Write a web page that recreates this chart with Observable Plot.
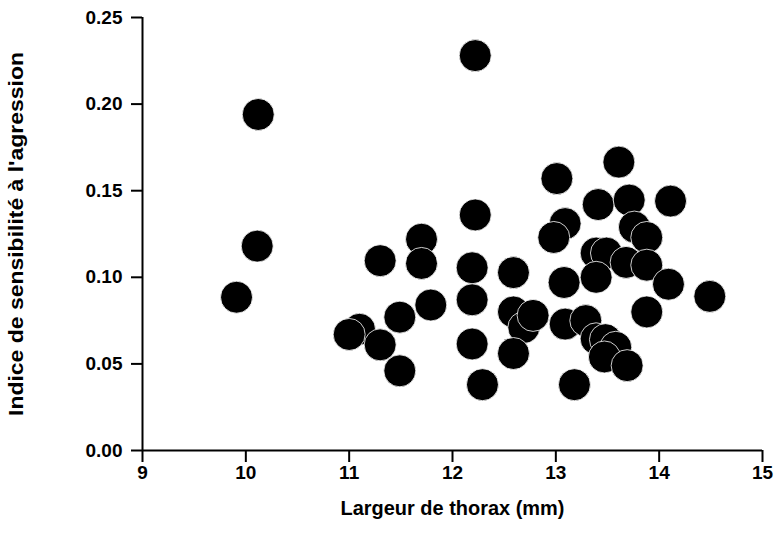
<!DOCTYPE html>
<html>
<head>
<meta charset="utf-8">
<script src="https://cdn.jsdelivr.net/npm/d3@7"></script>
<script src="https://cdn.jsdelivr.net/npm/@observablehq/plot@0.6"></script>
<style>
  html, body { margin: 0; padding: 0; background: #fff; }
</style>
</head>
<body>
<div id="chart"></div>
<script>
// Thorax width (mm)
const thorax = [
  12.22, 10.12, 10.11, 9.91,
  13.61, 13.01, 13.41, 13.71, 14.11, 12.22, 13.09, 12.98, 13.76, 13.88,
  11.70, 11.70, 11.30, 12.19, 12.59,
  13.39, 13.49, 13.39, 13.68, 13.88, 13.08, 14.09, 14.49,
  12.19, 11.79, 11.49, 12.59, 12.69, 12.78, 13.88,
  13.09, 13.29, 13.39, 13.48, 13.58, 13.47, 13.69,
  11.10, 11.00, 11.30, 12.19, 12.59, 11.49, 12.29, 13.18
];
// Aggression sensitivity index
const sensitivity = [
  0.228, 0.194, 0.118, 0.0885,
  0.1665, 0.157, 0.142, 0.1446, 0.144, 0.136, 0.131, 0.123, 0.129, 0.123,
  0.122, 0.108, 0.1096, 0.1055, 0.1027,
  0.114, 0.114, 0.100, 0.1086, 0.107, 0.097, 0.096, 0.089,
  0.087, 0.084, 0.077, 0.080, 0.071, 0.078, 0.080,
  0.073, 0.075, 0.0645, 0.064, 0.0596, 0.054, 0.049,
  0.070, 0.067, 0.061, 0.0615, 0.056, 0.046, 0.038, 0.038
];
const xTicks = [9, 10, 11, 12, 13, 14, 15];
const yTicks = [0, 0.05, 0.10, 0.15, 0.20, 0.25];
const xTitle = "Largeur de thorax (mm)";
const yTitle = "Indice de sensibilité à l'agression";

const data = thorax.map((t, i) => ({x: t, y: sensitivity[i]}));

const chart = Plot.plot({
  width: 779,
  height: 549,
  marginLeft: 142,
  marginRight: 17,
  marginTop: 17,
  marginBottom: 99,
  style: {
    fontFamily: "'Liberation Sans', Arial, Helvetica, sans-serif",
    fontWeight: "bold",
    background: "#fff",
    color: "#000"
  },
  x: {domain: [9, 15]},
  y: {domain: [0, 0.25]},
  marks: [
    Plot.axisX({
      ticks: xTicks,
      tickSize: 12,
      tickPadding: 3,
      fontSize: 19,
      strokeWidth: 2,
      tickFormat: d3.format("d"),
      label: xTitle,
      labelAnchor: "center",
      labelOffset: 64,
      labelArrow: false
    }),
    Plot.axisY({
      ticks: yTicks,
      tickSize: 11,
      tickPadding: 9,
      fontSize: 19,
      strokeWidth: 2,
      tickFormat: d3.format(".2f"),
      label: yTitle,
      labelAnchor: "center",
      labelOffset: 133,
      labelArrow: false
    }),
    Plot.ruleY([0], {x1: 9, x2: 15, stroke: "#000", strokeWidth: 2}),
    Plot.ruleX([9], {y1: 0, y2: 0.25, stroke: "#000", strokeWidth: 2}),
    Plot.dot(data, {x: "x", y: "y", r: 16, fill: "#000", stroke: "#fff", strokeWidth: 0.8})
  ]
});

// axis titles: larger, stretched to the reference's lengths
chart.querySelectorAll("[aria-label='x-axis label'] text").forEach(t => {
  t.setAttribute("font-size", 19.5);
  t.setAttribute("textLength", 224);
  t.setAttribute("lengthAdjust", "spacingAndGlyphs");
});
chart.querySelectorAll("[aria-label='y-axis label'] text").forEach(t => {
  t.setAttribute("font-size", 19.5);
  t.setAttribute("textLength", 364);
  t.setAttribute("lengthAdjust", "spacingAndGlyphs");
});
document.getElementById("chart").appendChild(chart);
</script>
</body>
</html>
